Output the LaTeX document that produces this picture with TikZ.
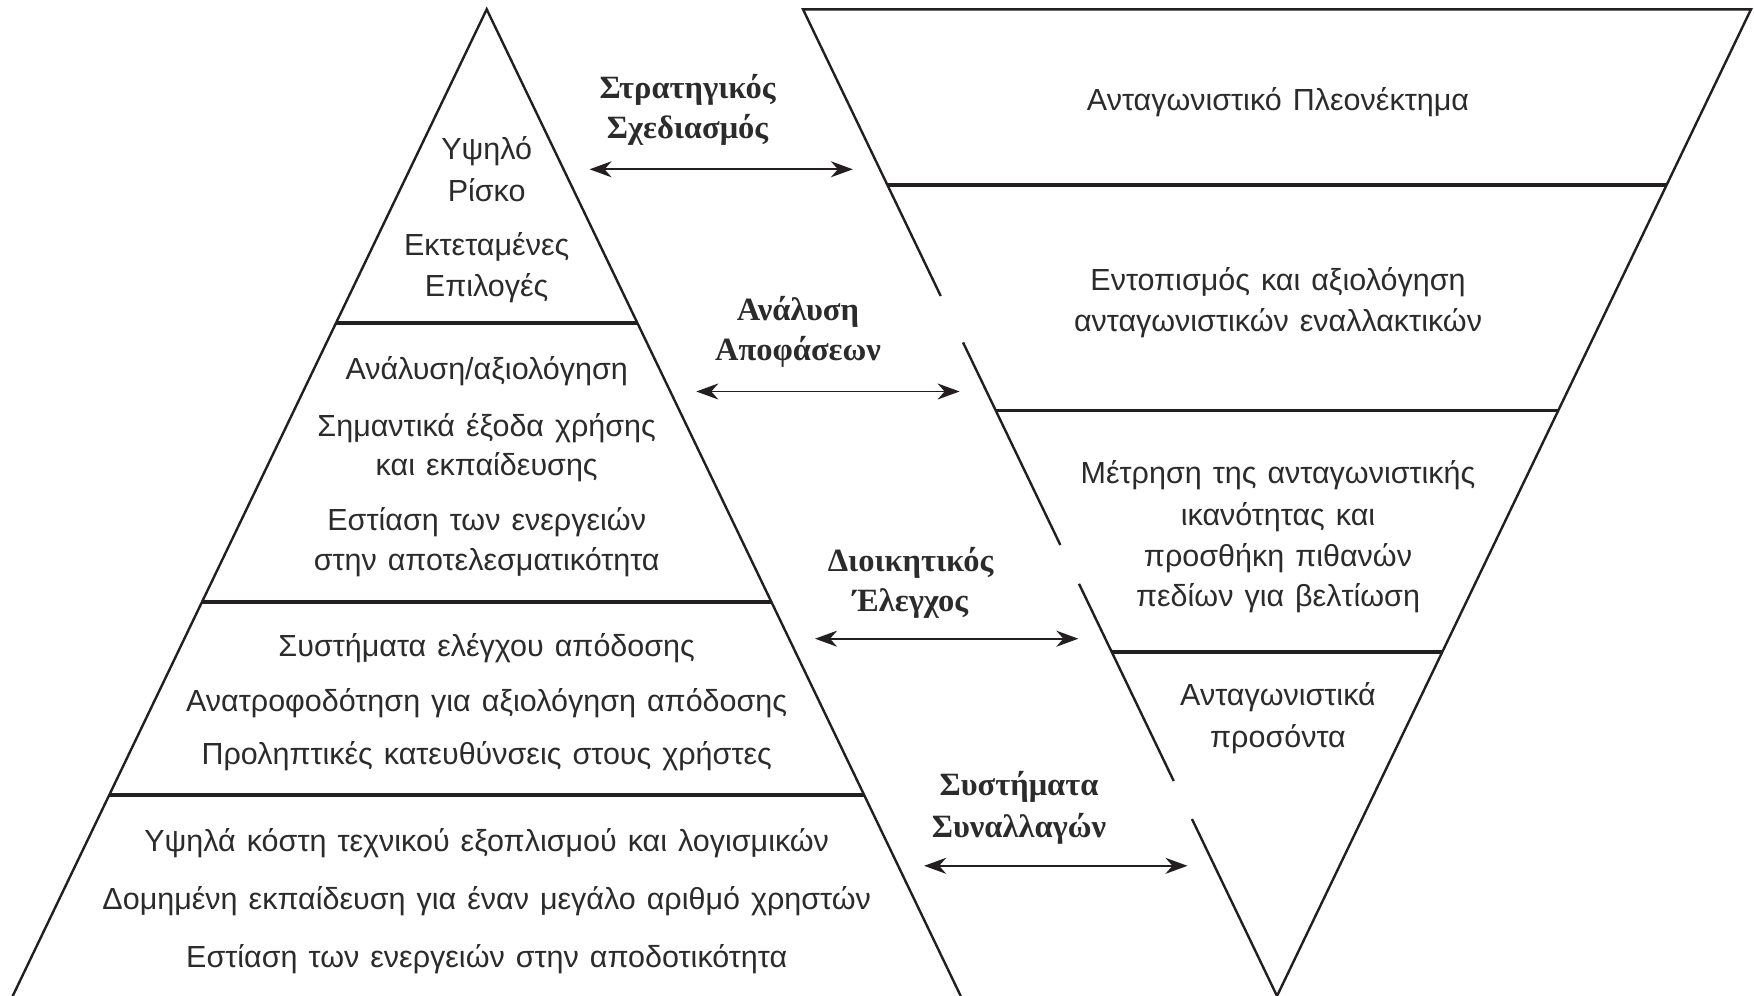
\documentclass[tikz,border=0pt]{standalone}
\usepackage{fontspec}
\setmainfont[WordSpace=1.3]{Liberation Sans}
\newfontfamily\tagfont{Liberation Serif}
\usetikzlibrary{calc,arrows.meta}
\definecolor{ink}{HTML}{231F20}
\definecolor{txt}{HTML}{2B2B2B}
\begin{document}
\begin{tikzpicture}[x=1pt,y=-1pt,
  edge/.style={draw=ink,line width=2.4pt,line join=miter},
  band/.style={draw=ink,line width=3.2pt},
  item/.style={font=\fontsize{30.5}{36}\selectfont,text=txt,inner sep=0pt,anchor=base},
  tag/.style={font=\tagfont\bfseries\fontsize{32.5}{40}\selectfont,text=txt,inner sep=0pt,anchor=base},
  link/.style={draw=ink,line width=1.8pt,
    {Stealth[length=22pt,width=16pt,inset=7pt]}-{Stealth[length=22pt,width=16pt,inset=7pt]}}]
\useasboundingbox (0,0) rectangle (1754,996);

% ---- pyramid ----
\coordinate (A)  at (486.7,9.3);
\coordinate (BL) at (12.7,996);
\coordinate (BR) at (960.7,996);
\draw[edge] (BL) -- (A) -- (BR);
\foreach \t in {0.31793,0.60068,0.79629}
  \draw[band] ($(A)!\t!(BL)$) -- ($(A)!\t!(BR)$);

% ---- inverted triangle (left side broken behind the labels) ----
\coordinate (TL) at (803,9.3);
\coordinate (TR) at (1751,9.3);
\coordinate (V)  at (1277,996);
\draw[edge] ($(TL)!0.82062!(V)$) -- (V) -- (TR) -- (TL) -- ($(TL)!0.29057!(V)$);
\draw[edge] ($(TL)!0.33759!(V)$) -- ($(TL)!0.54292!(V)$);
\draw[edge] ($(TL)!0.58224!(V)$) -- ($(TL)!0.78210!(V)$);
\foreach \t in {0.17807,0.40661,0.65137}
  \draw[band] ($(TL)!\t!(V)$) -- ($(TR)!\t!(V)$);

% ---- pyramid text ----
\node[item] (p1) at (486.7,159)   {Υψηλό};
\node[item] (p2) at (486.7,201.7) {Ρίσκο};
\node[item] (p3) at (486.7,255)   {Εκτεταμένες};
\node[item] (p4) at (486.7,296)   {Επιλογές};
\node[item] (p5) at (486.7,379)   {Ανάλυση/αξιολόγηση};
\node[item] (p6) at (486.7,436)   {Σημαντικά έξοδα χρήσης};
\node[item] (p7) at (486.7,475)   {και εκπαίδευσης};
\node[item] (p8) at (486.7,530)   {Εστίαση των ενεργειών};
\node[item] (p9) at (486.7,570)   {στην αποτελεσματικότητα};
\node[item] (p10) at (486.7,656)  {Συστήματα ελέγχου απόδοσης};
\node[item] (p11) at (486.7,711)  {Ανατροφοδότηση για αξιολόγηση απόδοσης};
\node[item] (p12) at (486.7,764)  {Προληπτικές κατευθύνσεις στους χρήστες};
\node[item] (p13) at (486.7,851)  {Υψηλά κόστη τεχνικού εξοπλισμού και λογισμικών};
\node[item] (p14) at (486.7,909)  {Δομημένη εκπαίδευση για έναν μεγάλο αριθμό χρηστών};
\node[item] (p15) at (486.7,967)  {Εστίαση των ενεργειών στην αποδοτικότητα};

% ---- inverted triangle text ----
\node[item] (q1) at (1278,110) {Ανταγωνιστικό Πλεονέκτημα};
\node[item] (q2) at (1278,290) {Εντοπισμός και αξιολόγηση};
\node[item] (q3) at (1278,331) {ανταγωνιστικών εναλλακτικών};
\node[item] (q4) at (1278,483) {Μέτρηση της ανταγωνιστικής};
\node[item] (q5) at (1278,525) {ικανότητας και};
\node[item] (q6) at (1278,566) {προσθήκη πιθανών};
\node[item] (q7) at (1278,606) {πεδίων για βελτίωση};
\node[item] (q8) at (1278,705) {Ανταγωνιστικά};
\node[item] (q9) at (1278,747) {προσόντα};

% ---- level labels ----
\node[tag] (t1a) at (687.5,98)  {Στρατηγικός};
\node[tag] (t1b) at (687.5,138) {Σχεδιασμός};
\node[tag] (t2a) at (798,320)   {Ανάλυση};
\node[tag] (t2b) at (798,360)   {Αποφάσεων};
\node[tag] (t3a) at (910.5,571) {Διοικητικός};
\node[tag] (t3b) at (910.5,611) {Έλεγχος};
\node[tag] (t4a) at (1019,795)  {Συστήματα};
\node[tag] (t4b) at (1019,837)  {Συναλλαγών};

% ---- two-way arrows between the shapes ----
\foreach \t [count=\i] in {0.16216,0.38735,0.63788,0.86805} {
  \coordinate (s\i) at ($(A)!\t!(BR)+(26,0)$);
  \coordinate (e\i) at ($(TL)!\t!(V)+(-27,0)$);
  \draw[link] (s\i) -- (e\i);
}
\end{tikzpicture}
\end{document}
